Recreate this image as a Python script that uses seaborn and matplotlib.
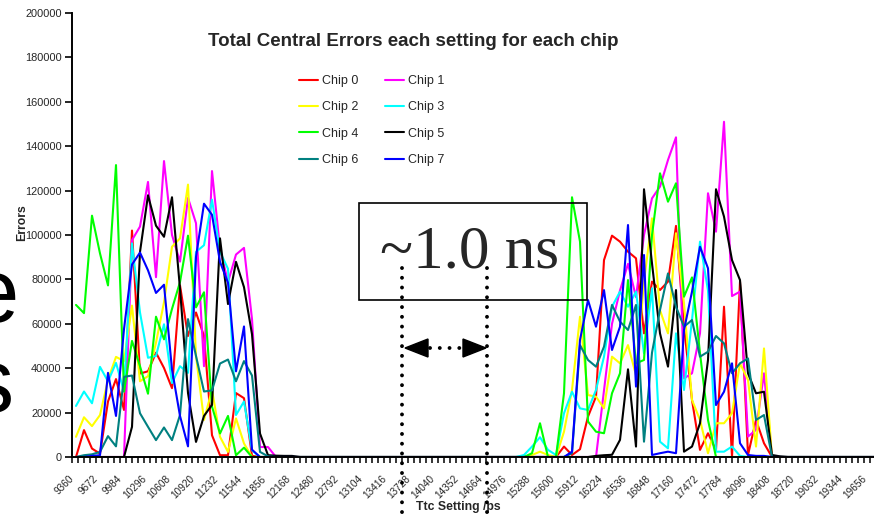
import numpy as np
import pandas as pd
import matplotlib
matplotlib.use("Agg")
import matplotlib.pyplot as plt
import seaborn as sns
from matplotlib.lines import Line2D
from matplotlib.patches import Rectangle, Polygon
from matplotlib.ticker import MultipleLocator, FixedLocator
import matplotlib.transforms as mtransforms

# ---------------- data ----------------
settings = list(range(9360, 19761, 104))  # Ttc setting / ps (101 settings)

GAP = [0] * 27     # settings 12272 .. 14976 : no errors
TAIL = [0] * 11    # settings 18720 .. 19760 : no errors

chip0_left = [0, 12100, 3800, 1500, 25000, 35100, 21200, 102000, 37600, 38600, 47000, 40100, 31000, 77300,
              54500, 65100, 54500, 9800, 800, 800, 28800, 26500, 500, 0, 0, 0, 0, 0]
chip0_right = [0, 0, 0, 0, 0, 0, 4700, 900, 3500, 18200, 27200, 88700, 99700, 97000, 92500, 89500, 55700,
               79000, 75200, 79000, 104100, 58700, 25700, 3200, 10700, 3200, 67700, 0, 79000, 900, 16700,
               6200, 0, 0, 0]

chip1_left = [0, 0, 0, 0, 0, 0, 0, 97700, 103800, 123900, 81000, 133300, 100000, 88000, 116700, 105300,
              40900, 128800, 93900, 78800, 91200, 94200, 62100, 4500, 4500, 0, 0, 0]
chip1_right = [0, 0, 0, 0, 0, 0, 0, 0, 0, 0, 0, 30000, 60000, 75000, 87000, 72000, 100000, 116500, 121800,
               133800, 144000, 35400, 37700, 55700, 118800, 101500, 151000, 72500, 74500, 9200, 12200,
               37700, 0, 0, 0]

chip2_left = [9100, 17900, 13900, 18900, 34800, 45100, 43200, 68200, 34100, 36400, 51500, 69700, 94700,
              98500, 122700, 45500, 16700, 30300, 9100, 2300, 17400, 6100, 0, 0, 0, 0, 0, 0]
chip2_right = [0, 0, 900, 2400, 900, 0, 11400, 30200, 63200, 27900, 27200, 21900, 45200, 42200, 50400,
               36900, 79000, 107500, 66100, 55700, 100800, 69200, 25700, 16700, 1700, 15200, 15200, 19700,
               42200, 34700, 4700, 48900, 0, 0, 0]

chip3_left = [23000, 29500, 24200, 40600, 34100, 42400, 29500, 96200, 65100, 44700, 45500, 59800, 33300,
              40900, 37900, 92400, 95400, 115900, 92400, 84800, 18900, 25000, 3000, 0, 0, 0, 0, 0]
chip3_right = [0, 900, 4700, 8900, 3200, 900, 19700, 29400, 21900, 21200, 30200, 45200, 67700, 74500,
               67700, 74500, 46700, 76000, 6900, 3900, 55700, 30200, 61700, 97000, 75000, 2400, 2400, 4700,
               500, 0, 0, 0, 0, 0, 0]

chip4_left = [68500, 64800, 108700, 91700, 77300, 131500, 29500, 52300, 40900, 28500, 63200, 53000, 66700,
              78800, 99700, 67400, 74200, 22700, 10600, 18500, 800, 4200, 0, 0, 0, 0, 0, 0]
chip4_right = [0, 0, 1700, 15200, 0, 0, 28700, 117000, 97000, 16000, 11400, 10700, 28700, 37700, 79700,
               42200, 43700, 100000, 127800, 115000, 123300, 72200, 80900, 46700, 16700, 0, 0, 0, 0, 0,
               0, 0, 0, 0, 0]

chip5_left = [0, 0, 0, 0, 0, 0, 0, 13600, 92400, 117900, 104200, 99200, 117000, 75800, 28800, 6800, 18500,
              23500, 98500, 68900, 87900, 76500, 55300, 10600, 800, 600, 500, 500]
chip5_right = [0, 0, 0, 0, 0, 0, 0, 0, 0, 0, 500, 800, 1000, 7700, 39500, 4700, 120600, 87200, 55700,
               40700, 75200, 2400, 4700, 15200, 43700, 120600, 108300, 88700, 79700, 37700, 28700, 29400,
               900, 300, 0]

chip6_left = [0, 800, 1200, 2300, 9400, 4800, 36100, 36700, 19700, 13600, 7600, 13300, 7600, 18900, 62100,
              45500, 29500, 30000, 42100, 43900, 34100, 43200, 36700, 2300, 300, 0, 0, 0]
chip6_right = [0, 0, 0, 0, 0, 0, 0, 1700, 50400, 43700, 40700, 49700, 68500, 61000, 57200, 68500, 6900,
               47000, 66200, 82700, 67700, 58700, 61700, 45200, 47400, 54500, 51200, 37700, 42200, 44400,
               16700, 18900, 0, 0, 0]

chip7_left = [0, 0, 500, 800, 37900, 18500, 57600, 86700, 92100, 84100, 73900, 77600, 39400, 18500, 4800,
              90100, 114100, 109100, 87900, 78500, 38600, 58800, 3300, 0, 0, 0, 0, 0]
chip7_right = [0, 0, 0, 0, 0, 0, 0, 2400, 52700, 70700, 58700, 75200, 48200, 58700, 104500, 31700, 91000,
               900, 1700, 2400, 1700, 57200, 74500, 94700, 85000, 23400, 29400, 42200, 6200, 900, 500,
               500, 0, 0, 0]

chip_names = ["Chip 0", "Chip 1", "Chip 2", "Chip 3", "Chip 4", "Chip 5", "Chip 6", "Chip 7"]
chip_colors = ["#FF0000", "#FF00FF", "#FFFF00", "#00FFFF", "#00FF00", "#000000", "#008080", "#0000FF"]

chip_series = [
    chip0_left + GAP + chip0_right + TAIL,
    chip1_left + GAP + chip1_right + TAIL,
    chip2_left + GAP + chip2_right + TAIL,
    chip3_left + GAP + chip3_right + TAIL,
    chip4_left + GAP + chip4_right + TAIL,
    chip5_left + GAP + chip5_right + TAIL,
    chip6_left + GAP + chip6_right + TAIL,
    chip7_left + GAP + chip7_right + TAIL,
]

xtick_values = list(range(9360, 19657, 312))
ytick_values = list(range(0, 200001, 20000))

rows = []
for name, vals in zip(chip_names, chip_series):
    for s, v in zip(settings, vals):
        rows.append({"setting": s, "errors": v, "chip": name})
df = pd.DataFrame(rows)

# ---------------- style ----------------
sns.set_theme(style="ticks")
plt.rcParams["font.family"] = ["Liberation Sans", "DejaVu Sans"]

W, H = 874, 514
fig = plt.figure(figsize=(W / 100, H / 100), dpi=100)
fig.patch.set_facecolor("white")

def fx(px):
    return px / W

def fy(py):
    return 1 - py / H

ax = fig.add_axes([fx(71.5), fy(457), 1 - fx(71.5), (457 - 13) / H])
ax.set_facecolor("white")

sns.lineplot(data=df, x="setting", y="errors", hue="chip", hue_order=chip_names,
             palette=chip_colors, estimator=None, sort=False, linewidth=1.5, ax=ax)

ax.set_xlim(9301.5, 19734)
ax.set_ylim(0, 200000)
ax.set_xlabel("")
ax.set_ylabel("")

for side in ["top", "right"]:
    ax.spines[side].set_visible(False)
for side in ["left", "bottom"]:
    ax.spines[side].set_linewidth(1.4)
    ax.spines[side].set_color("black")

ax.yaxis.set_major_locator(FixedLocator(ytick_values))
ax.set_yticklabels([str(v) for v in ytick_values])
ax.tick_params(axis="y", length=5, width=1.2, color="black", labelsize=7.9, pad=2, direction="out")

ax.xaxis.set_major_locator(FixedLocator(xtick_values))
ax.set_xticklabels([str(v) for v in xtick_values], rotation=45, ha="right", va="top",
                   rotation_mode="anchor")
ax.xaxis.set_minor_locator(MultipleLocator(78, offset=9308))
ax.tick_params(axis="x", which="major", length=0, labelsize=7.2, pad=12)
ax.tick_params(axis="x", which="minor", length=4, width=1.1, color="black", direction="out")
offset = mtransforms.ScaledTranslation(-7 / 100, 0, fig.dpi_scale_trans)
for lab in ax.get_xticklabels():
    lab.set_transform(lab.get_transform() + offset)

# legend (row-wise order as in the reference)
handles, labels = ax.get_legend_handles_labels()
order = [0, 2, 4, 6, 1, 3, 5, 7]
ax.legend([handles[i] for i in order], [labels[i] for i in order], ncol=2, frameon=False,
          fontsize=9, handlelength=1.5, handletextpad=0.35, columnspacing=2.1, labelspacing=1.15,
          loc="upper left", bbox_to_anchor=(fx(299), fy(75)), bbox_transform=fig.transFigure,
          borderpad=0, borderaxespad=0)

# texts
fig.text(fx(413), fy(45.5), "Total Central Errors each setting for each chip", ha="center", va="baseline",
         fontsize=13.5, fontweight="bold")
fig.text(fx(22), fy(223), "Errors", rotation=90, ha="center", va="center", fontsize=8.8, fontweight="bold")
fig.text(fx(458), fy(507), "Ttc Setting /ps", ha="center", va="center", fontsize=8.8, fontweight="bold")

# partial slide letters at the left edge
fig.text(fx(-32), fy(322), "e", fontsize=65, ha="left", va="baseline", color="black")
fig.text(fx(-31), fy(412), "s", fontsize=65, ha="left", va="baseline", color="black")

# annotation box
fig.patches.append(Rectangle((fx(359), fy(300)), (587 - 359) / W, (300 - 203) / H,
                             transform=fig.transFigure, fill=False, edgecolor="black", linewidth=1.2,
                             zorder=5))
fig.text(fx(470), fy(253), "~1.0 ns", ha="center", va="center", fontsize=44,
         family=["Liberation Serif", "DejaVu Serif"], zorder=6)

# dotted guides
for px in (402, 487):
    fig.lines.append(Line2D([fx(px), fx(px)], [fy(268), fy(516)], transform=fig.transFigure,
                            color="black", linewidth=2.8, linestyle=(0, (0.01, 2.5)),
                            dash_capstyle="round", zorder=6))
fig.lines.append(Line2D([fx(430), fx(462)], [fy(348), fy(348)], transform=fig.transFigure,
                        color="black", linewidth=2.8, linestyle=(0, (0.01, 2.5)),
                        dash_capstyle="round", zorder=6))
for tip, base in ((405, 428), (486, 463)):
    fig.patches.append(Polygon([(fx(tip), fy(348)), (fx(base), fy(339)), (fx(base), fy(357))],
                               closed=True, transform=fig.transFigure, facecolor="black",
                               edgecolor="black", zorder=6))

fig.savefig("out.png", dpi=100)
